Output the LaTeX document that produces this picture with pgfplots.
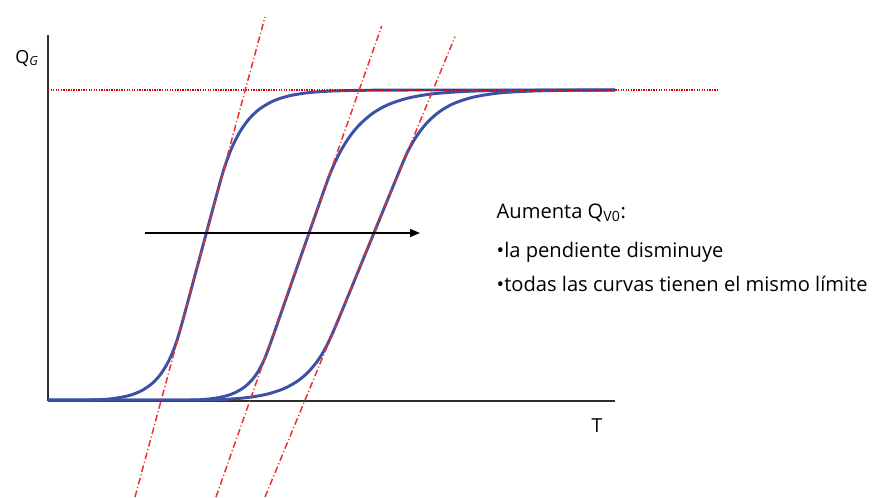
\documentclass[border=0pt]{standalone}
\usepackage{fontspec}
\setmainfont{Open Sans}
\usepackage{pgfplots}
\pgfplotsset{compat=1.18}
\usetikzlibrary{arrows.meta}

\definecolor{curveblue}{RGB}{60,80,165}
\definecolor{tanred}{RGB}{235,45,45}
\definecolor{axisgray}{RGB}{45,45,45}

% one data unit = one pixel of the reference (x = px-48, y = 401-py)
\begin{document}
\begin{tikzpicture}
\begin{axis}[
    x=0.75pt, y=0.75pt,
    xmin=0, xmax=567, ymin=0, ymax=366,
    axis lines=left,
    axis line style={-, line width=1.5pt, color=axisgray},
    xtick=\empty, ytick=\empty,
    clip=false,
]
% bounding box of the whole picture
\path (axis cs:-48,-96) (axis cs:825,401);

% three sigmoid curves
\addplot[curveblue, line width=2.2pt, smooth] coordinates {
    (0,1) (40,1) (60,1.9) (75,4.1) (85,6.7) (95,11.1) (105,18.3) (113,27.3)
    (120,38.7) (126,52.3) (132.9,73.8) (152.5,146.3) (172.1,218.8)
    (178,238.1) (185,255.9) (193,271.0) (202,283.1) (212,292.3) (225,299.9)
    (240,304.9) (260,308.3) (285,310.0) (320,310.75) (380,311) (567,311)
};
\addplot[curveblue, line width=2.2pt, smooth] coordinates {
    (0,1) (100,1) (130,1) (150,1.2) (165,2.5) (178,5.1) (188,8.8) (197,14.4)
    (205,22.3) (212,32.8) (220.3,51.8) (249,133.6) (277.9,216)
    (285,234.2) (293,250.6) (302,264.9) (312,276.8) (325,287.9) (340,296.3)
    (360,302.9) (385,307.2) (420,309.7) (460,310.6) (520,310.9) (567,311)
};
\addplot[curveblue, line width=2.2pt, smooth] coordinates {
    (0,1) (120,1) (150,1) (170,1.3) (190,2.5) (205,4.2) (220,7.1) (235,12.0)
    (248,18.9) (260,28.7) (272,43.7) (285.1,69.1) (320.8,155.5) (354.6,237.7)
    (362,253.6) (370,266.9) (380,279.3) (392,289.7) (406,297.6) (425,303.8)
    (450,307.9) (480,309.8) (520,310.7) (567,311)
};

% common limit
\addplot[red!85!black, line width=1pt, dash pattern=on 1pt off 0.9pt] coordinates {(0,311) (670,311)};

% tangent lines
\addplot[tanred, line width=1.1pt, dash pattern=on 5pt off 2pt on 0.8pt off 2pt] coordinates {(87,-96) (217,384)};
\addplot[tanred, line width=1.1pt, dash pattern=on 5pt off 2pt on 0.8pt off 2pt] coordinates {(168,-96) (333.7,375)};
\addplot[tanred, line width=1.1pt, dash pattern=on 5pt off 2pt on 0.8pt off 2pt] coordinates {(217,-96) (407,364.3)};

% arrow
\addplot[black, line width=1.1pt, -{Triangle[length=7.5pt,width=6pt]}] coordinates {(97,168) (372,168)};

% labels
\node[anchor=base west, font=\fontsize{13.5}{16}\selectfont] at (axis cs:-37.3,338) {Q\textsubscript{\textit{G}}};
\node[anchor=base, font=\fontsize{14.5}{17}\selectfont] at (axis cs:549,-31) {T};
\node[anchor=base west, font=\fontsize{15.1}{18}\selectfont] at (axis cs:444,183) {Aumenta Q\textsubscript{V0}:};
\node[anchor=base west, font=\fontsize{15.1}{18}\selectfont] at (axis cs:444,144) {•la pendiente disminuye};
\node[anchor=base west, font=\fontsize{15.1}{18}\selectfont] at (axis cs:444,110) {•todas las curvas tienen el mismo límite};
\end{axis}
\end{tikzpicture}
\end{document}
